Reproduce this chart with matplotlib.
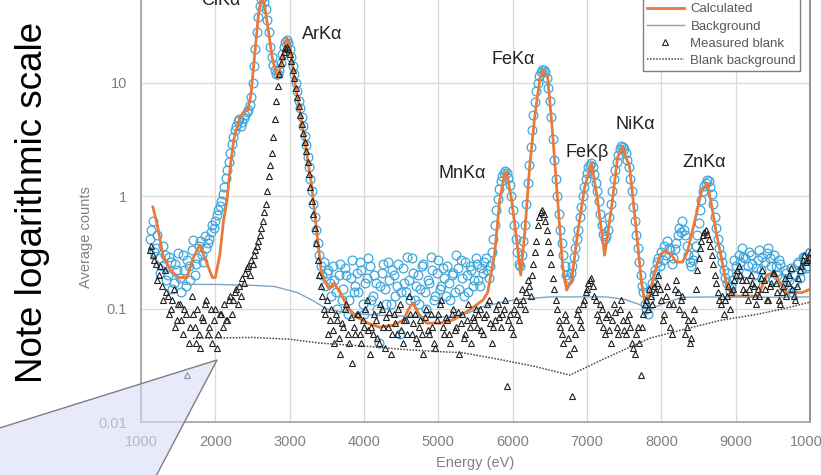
import numpy as np
import matplotlib
matplotlib.use("Agg")
import matplotlib.pyplot as plt
from matplotlib.patches import Polygon

plt.rcParams['font.family'] = ['Liberation Sans', 'DejaVu Sans']

# channel energies of the two measured spectra (eV), 20 eV bins
energy = np.arange(1120, 10001, 20)

# measured sample spectrum (average counts per bin), one row = 400 eV
measured = [
    0.42, 0.50, 0.60, 0.32, 0.35, 0.45, 0.28, 0.21, 0.24, 0.36, 0.30, 0.18, 0.20, 0.29, 0.26, 0.15, 0.17, 0.25, 0.22, 0.31,  # 1120
    0.19, 0.14, 0.30, 0.22, 0.16, 0.27, 0.24, 0.18, 0.33, 0.41, 0.20, 0.25, 0.28, 0.36, 0.40, 0.30, 0.26, 0.44, 0.35, 0.38,  # 1520
    0.42, 0.48, 0.55, 0.52, 0.60, 0.68, 0.75, 0.82, 0.90, 1.05, 1.20, 1.45, 1.70, 2.00, 2.40, 2.90, 3.30, 3.80, 4.20, 4.60,  # 1920
    4.80, 4.20, 4.50, 4.90, 5.20, 5.50, 5.80, 6.40, 7.50, 10.0, 14.0, 20.0, 28.0, 38.0, 48.0, 55.0, 58.0, 52.0, 45.0, 36.0,  # 2320
    28.0, 21.0, 17.0, 14.5, 13.0, 12.0, 12.0, 13.0, 15.0, 18.0, 21.0, 23.0, 24.0, 22.5, 20.0, 17.0, 14.0, 12.0, 10.0, 8.50,  # 2720
    7.00, 6.00, 5.00, 4.20, 3.40, 2.80, 2.20, 1.80, 1.40, 1.10, 0.85, 0.65, 0.50, 0.38, 0.30, 0.24, 0.20, 0.26, 0.16, 0.21,  # 3120
    0.22, 0.17, 0.13, 0.24, 0.18, 0.14, 0.10, 0.20, 0.25, 0.12, 0.15, 0.23, 0.20, 0.09, 0.12, 0.19, 0.27, 0.14, 0.16, 0.21,  # 3520
    0.14, 0.26, 0.22, 0.11, 0.09, 0.17, 0.19, 0.28, 0.24, 0.12, 0.13, 0.20, 0.17, 0.10, 0.05, 0.16, 0.21, 0.25, 0.15, 0.11,  # 3920
    0.26, 0.18, 0.11, 0.22, 0.20, 0.13, 0.16, 0.25, 0.06, 0.14, 0.23, 0.17, 0.14, 0.29, 0.18, 0.12, 0.28, 0.21, 0.12, 0.16,  # 4320
    0.20, 0.11, 0.15, 0.24, 0.25, 0.14, 0.10, 0.18, 0.17, 0.29, 0.22, 0.12, 0.13, 0.21, 0.27, 0.15, 0.16, 0.23, 0.19, 0.13,  # 4720
    0.24, 0.17, 0.12, 0.20, 0.21, 0.14, 0.30, 0.23, 0.15, 0.27, 0.19, 0.13, 0.26, 0.20, 0.14, 0.24, 0.22, 0.16, 0.18, 0.28,  # 5120
    0.25, 0.18, 0.16, 0.23, 0.21, 0.26, 0.28, 0.22, 0.19, 0.24, 0.32, 0.42, 0.55, 0.75, 0.95, 1.15, 1.35, 1.50, 1.60, 1.65,  # 5520
    1.60, 1.45, 1.25, 1.00, 0.75, 0.55, 0.42, 0.32, 0.25, 0.24, 0.30, 0.40, 0.55, 0.85, 1.30, 1.90, 2.70, 3.80, 5.20, 6.80,  # 5920
    8.50, 10.0, 11.5, 12.5, 13.0, 13.0, 12.5, 11.0, 9.00, 7.00, 5.00, 3.20, 2.10, 1.40, 1.00, 0.70, 0.50, 0.38, 0.30, 0.24,  # 6320
    0.20, 0.18, 0.19, 0.21, 0.24, 0.29, 0.35, 0.42, 0.50, 0.65, 0.80, 1.00, 1.20, 1.40, 1.60, 1.80, 1.90, 1.95, 1.80, 1.55,  # 6720
    1.30, 1.10, 0.90, 0.70, 0.55, 0.46, 0.42, 0.44, 0.50, 0.65, 0.85, 1.10, 1.40, 1.70, 2.00, 2.30, 2.60, 2.75, 2.70, 2.60,  # 7120
    2.40, 2.10, 1.80, 1.40, 1.10, 0.80, 0.60, 0.45, 0.35, 0.26, 0.20, 0.16, 0.14, 0.11, 0.10, 0.09, 0.12, 0.15, 0.17, 0.20,  # 7520
    0.22, 0.26, 0.28, 0.24, 0.32, 0.27, 0.36, 0.30, 0.40, 0.35, 0.33, 0.25, 0.28, 0.34, 0.38, 0.45, 0.52, 0.48, 0.60, 0.50,  # 7920
    0.45, 0.36, 0.30, 0.26, 0.24, 0.27, 0.30, 0.36, 0.45, 0.58, 0.75, 0.92, 1.10, 1.22, 1.30, 1.38, 1.35, 1.20, 1.05, 0.85,  # 8320
    0.65, 0.52, 0.42, 0.35, 0.30, 0.26, 0.22, 0.19, 0.17, 0.21, 0.14, 0.16, 0.18, 0.27, 0.24, 0.20, 0.30, 0.26, 0.35, 0.29,  # 8720
    0.28, 0.21, 0.24, 0.32, 0.30, 0.25, 0.20, 0.17, 0.23, 0.27, 0.33, 0.22, 0.29, 0.19, 0.26, 0.31, 0.35, 0.28, 0.24, 0.18,  # 9120
    0.30, 0.24, 0.20, 0.27, 0.25, 0.19, 0.16, 0.22, 0.21, 0.15, 0.18, 0.23, 0.14, 0.17, 0.20, 0.25, 0.26, 0.19, 0.22, 0.29,  # 9520
    0.28, 0.23, 0.24, 0.31, 0.32,                                                                                          # 9920
]

# measured blank spectrum
blank = [
    0.33, 0.36, 0.30, 0.27, 0.25, 0.18, 0.20, 0.24, 0.16, 0.12, 0.22, 0.14, 0.13, 0.09, 0.10, 0.12, 0.15, 0.07, 0.08, 0.11,  # 1120
    0.11, 0.08, 0.06, 0.10, 0.09, 0.026, 0.05, 0.07, 0.13, 0.09, 0.07, 0.05, 0.10, 0.06, 0.045, 0.085, 0.08, 0.11, 0.12, 0.06,  # 1520
    0.07, 0.10, 0.05, 0.08, 0.10, 0.045, 0.06, 0.09, 0.09, 0.07, 0.11, 0.08, 0.08, 0.12, 0.13, 0.09, 0.12, 0.14, 0.15, 0.11,  # 1920
    0.16, 0.13, 0.19, 0.17, 0.21, 0.23, 0.24, 0.20, 0.27, 0.25, 0.30, 0.33, 0.36, 0.40, 0.45, 0.52, 0.60, 0.72, 0.85, 1.10,  # 2320
    1.50, 1.90, 2.40, 3.30, 4.80, 7.00, 9.50, 12.0, 15.0, 17.5, 19.0, 20.5, 21.0, 20.0, 18.0, 15.5, 13.0, 11.0, 9.00, 7.50,  # 2720
    6.20, 5.20, 4.30, 3.60, 3.00, 2.50, 2.00, 1.55, 1.20, 0.90, 0.70, 0.52, 0.38, 0.27, 0.20, 0.16, 0.13, 0.10, 0.09, 0.12,  # 3120
    0.06, 0.08, 0.10, 0.065, 0.05, 0.09, 0.08, 0.055, 0.04, 0.075, 0.07, 0.10, 0.11, 0.06, 0.05, 0.085, 0.033, 0.07, 0.06, 0.09,  # 3520
    0.09, 0.06, 0.05, 0.08, 0.07, 0.10, 0.12, 0.065, 0.04, 0.07, 0.06, 0.09, 0.08, 0.055, 0.05, 0.11, 0.10, 0.07, 0.045, 0.085,  # 3920
    0.07, 0.095, 0.04, 0.06, 0.09, 0.075, 0.06, 0.10, 0.11, 0.065, 0.05, 0.08, 0.08, 0.06, 0.13, 0.09, 0.06, 0.075, 0.09, 0.055,  # 4320
    0.05, 0.07, 0.08, 0.06, 0.04, 0.085, 0.10, 0.065, 0.06, 0.09, 0.07, 0.05, 0.045, 0.08, 0.09, 0.11, 0.12, 0.07, 0.06, 0.085,  # 4720
    0.08, 0.06, 0.05, 0.09, 0.10, 0.065, 0.07, 0.095, 0.04, 0.075, 0.09, 0.055, 0.06, 0.08, 0.11, 0.07, 0.05, 0.085, 0.08, 0.10,  # 5120
    0.07, 0.09, 0.10, 0.065, 0.06, 0.085, 0.09, 0.11, 0.12, 0.075, 0.05, 0.07, 0.08, 0.10, 0.11, 0.085, 0.07, 0.09, 0.10, 0.12,  # 5520
    0.021, 0.08, 0.09, 0.07, 0.06, 0.10, 0.12, 0.09, 0.08, 0.11, 0.15, 0.12, 0.10, 0.14, 0.18, 0.16, 0.13, 0.20, 0.25, 0.32,  # 5920
    0.40, 0.55, 0.65, 0.72, 0.75, 0.70, 0.60, 0.50, 0.40, 0.32, 0.25, 0.19, 0.15, 0.12, 0.10, 0.08, 0.07, 0.06, 0.05, 0.09,  # 6320
    0.08, 0.055, 0.04, 0.07, 0.017, 0.045, 0.06, 0.09, 0.10, 0.08, 0.07, 0.11, 0.12, 0.14, 0.15, 0.17, 0.18, 0.19, 0.16, 0.13,  # 6720
    0.12, 0.09, 0.08, 0.11, 0.10, 0.07, 0.06, 0.085, 0.09, 0.065, 0.05, 0.08, 0.11, 0.095, 0.07, 0.06, 0.10, 0.12, 0.08, 0.065,  # 7120
    0.06, 0.08, 0.09, 0.07, 0.05, 0.045, 0.04, 0.06, 0.07, 0.05, 0.026, 0.07, 0.09, 0.11, 0.12, 0.10, 0.15, 0.13, 0.11, 0.16,  # 7520
    0.14, 0.17, 0.20, 0.15, 0.12, 0.08, 0.09, 0.13, 0.16, 0.11, 0.07, 0.06, 0.11, 0.15, 0.18, 0.14, 0.10, 0.12, 0.13, 0.09,  # 7920
    0.06, 0.07, 0.08, 0.05, 0.055, 0.08, 0.10, 0.15, 0.22, 0.28, 0.35, 0.40, 0.45, 0.48, 0.50, 0.46, 0.42, 0.36, 0.30, 0.25,  # 8320
    0.20, 0.17, 0.14, 0.12, 0.11, 0.13, 0.09, 0.12, 0.13, 0.16, 0.10, 0.14, 0.15, 0.18, 0.20, 0.22, 0.24, 0.20, 0.18, 0.15,  # 8720
    0.14, 0.18, 0.12, 0.15, 0.20, 0.17, 0.16, 0.13, 0.11, 0.15, 0.13, 0.19, 0.22, 0.18, 0.15, 0.12, 0.12, 0.16, 0.17, 0.21,  # 9120
    0.21, 0.17, 0.14, 0.12, 0.11, 0.14, 0.16, 0.19, 0.13, 0.17, 0.20, 0.23, 0.15, 0.13, 0.12, 0.16, 0.19, 0.22, 0.24, 0.27,  # 9520
    0.30, 0.26, 0.27, 0.29, 0.32,                                                                                          # 9920
]

# fitted (calculated) spectrum
calc_e = [1160, 1220, 1300, 1400, 1500, 1620, 1700, 1790, 1880, 1960,
          2000, 2060, 2110, 2156, 2200, 2250, 2290, 2330, 2400, 2440,
          2480, 2530, 2580, 2620, 2660, 2710, 2770, 2841, 2900, 2962,
          3010, 3070, 3140, 3204, 3298, 3366, 3430, 3530, 3600, 3675,
          3800, 3900, 4050, 4210, 4400, 4530, 4600, 4656, 4740, 4840,
          5020, 5200, 5420, 5600, 5664, 5758, 5825, 5892, 5919, 5987,
          6054, 6108, 6161, 6228, 6296, 6363, 6403, 6470, 6537, 6605,
          6672, 6726, 6793, 6874, 6968, 7062, 7142, 7237, 7331, 7411,
          7478, 7573, 7667, 7734, 7774, 7840, 7900, 7980, 8060, 8140,
          8200, 8285, 8350, 8450, 8540, 8620, 8680, 8740, 8800, 8880,
          8960, 9100, 9300, 9420, 9520, 9600, 9680, 9780, 9900, 10000]
calc_v = [0.80, 0.55, 0.29, 0.22, 0.19, 0.19, 0.28, 0.37, 0.26, 0.19,
          0.19, 0.30, 0.60, 0.91, 1.8, 3.2, 4.0, 5.0, 5.6, 5.8,
          8.0, 18, 40, 58, 50, 30, 16, 11, 16, 25,
          20, 10, 5.5, 3.1, 1.2, 0.47, 0.20, 0.15, 0.17, 0.14,
          0.10, 0.085, 0.075, 0.069, 0.072, 0.08, 0.10, 0.113, 0.09, 0.075,
          0.075, 0.08, 0.098, 0.12, 0.14, 0.31, 0.91, 1.6, 1.63, 0.91,
          0.41, 0.20, 0.46, 1.8, 5.0, 10.6, 13.0, 11.5, 3.6, 0.92,
          0.24, 0.147, 0.18, 0.47, 1.2, 1.96, 0.92, 0.30, 0.80, 2.2,
          2.7, 1.8, 0.47, 0.17, 0.12, 0.13, 0.2, 0.3, 0.33, 0.3,
          0.26, 0.26, 0.32, 0.6, 1.1, 1.3, 0.8, 0.47, 0.3, 0.16,
          0.13, 0.13, 0.13, 0.2, 0.21, 0.17, 0.14, 0.14, 0.14, 0.15]

# background of the fit
bkg_e = [1150, 1580, 2000, 2500, 2800, 3100, 3300, 3500, 3800, 4200, 4600,
         5150, 5400, 5600, 6000, 6500, 7000, 7260, 7500, 7700, 7840, 8000,
         8285, 8800, 9400, 10000]
bkg_v = [0.29, 0.165, 0.165, 0.162, 0.158, 0.14, 0.12, 0.10, 0.092, 0.088,
         0.086, 0.085, 0.092, 0.105, 0.12, 0.128, 0.128, 0.128, 0.122, 0.11,
         0.098, 0.11, 0.127, 0.128, 0.127, 0.128]

# background of the blank
bbk_e = [1700, 2500, 3000, 3400, 4000, 4500, 5000, 5330, 5800, 6300, 6770,
         7260, 7840, 8300, 8820, 9300, 9630, 10000]
bbk_v = [0.055, 0.056, 0.054, 0.05, 0.047, 0.044, 0.042, 0.041, 0.036,
         0.031, 0.026, 0.037, 0.055, 0.066, 0.08, 0.09, 0.10, 0.115]

peak_names = ['ClKα', 'ArKα', 'MnKα', 'FeKα', 'FeKβ', 'NiKα', 'ZnKα']
peak_e = [2075, 3433, 5315, 6013, 7008, 7653, 8581]
peak_y = [54, 26.6, 1.57, 16.3, 2.45, 4.33, 1.96]

W, H = 821, 475
fig = plt.figure(figsize=(W / 100, H / 100), dpi=100)
ax = fig.add_axes([141 / W, 53 / H, 669 / W, 452 / H])
ax.patch.set_alpha(0)

ax.plot(energy, measured, ls='none', marker='o', ms=6.3, mfc='none',
        mec='#3FA6DA', mew=0.9, zorder=2, label='Measured')
ax.plot(calc_e, calc_v, color='#EA7A3A', lw=2.0, zorder=3, label='Calculated')
ax.plot(bkg_e, bkg_v, color='#7FA6C6', lw=1.0, zorder=3, label='Background')
ax.plot(energy, blank, ls='none', marker='^', ms=4.8, mfc='none',
        mec='#222222', mew=0.8, zorder=4, label='Measured blank')
ax.plot(bbk_e, bbk_v, color='#444444', lw=1.1, ls=(0, (1, 1)), zorder=5,
        label='Blank background')

ax.set_yscale('log')
ax.set_xlim(1000, 10000)
ax.set_ylim(0.01, 100)
ax.set_xticks(range(1000, 10001, 1000))
ax.set_yticks([0.01, 0.1, 1, 10])
ax.set_yticklabels(['0.01', '0.1', '1', '10'])
ax.minorticks_off()
ax.grid(True, color='#D9D9D9', lw=0.9)
ax.axhline(100, color='#D9D9D9', lw=0.9, zorder=0)
ax.set_axisbelow(True)
ax.tick_params(length=0, labelsize=10.5, labelcolor='#808080')
ax.tick_params(axis='x', pad=9)
ax.tick_params(axis='y', pad=10)
for side in ['left', 'bottom', 'right']:
    ax.spines[side].set_color('#A0A0A0')
    ax.spines[side].set_linewidth(1.2)
ax.spines['right'].set_color('#808080')
ax.spines['top'].set_visible(False)

ax.set_xlabel('Energy (eV)', fontsize=10.5, color='#808080')
ax.xaxis.set_label_coords(0.5, -0.075)
ax.set_ylabel('Average counts', fontsize=10.5, color='#808080')
ax.yaxis.set_label_coords(-0.072, 0.41)

for name, e, y in zip(peak_names, peak_e, peak_y):
    ax.text(e, y, name, fontsize=13, ha='center', va='center', color='#222222')

leg = ax.legend(loc='lower right', bbox_to_anchor=(0.985, 0.7765),
                fontsize=9.5, frameon=True, fancybox=False, framealpha=1,
                edgecolor='#808080', handlelength=2.8, handletextpad=0.5,
                labelspacing=0.38, borderpad=0.3, borderaxespad=0,
                labelcolor='#595959')
leg.get_frame().set_linewidth(1.0)
leg.set_zorder(6)

# callout bubble pointing at the log axis
pts = [(-10, 431), (217, 360), (154, 480), (-10, 480)]
poly = Polygon([(x / W, 1 - y / H) for x, y in pts], closed=True,
               transform=fig.transFigure, facecolor=(0.86, 0.86, 0.98, 0.6),
               edgecolor='#7F7F7F', lw=1.0, zorder=10)
fig.patches.append(poly)

fig.text(33 / W, 1 - 202 / H, 'Note logarithmic scale', rotation=90,
         fontsize=26.5, ha='center', va='center', color='black')

fig.savefig('out.png', dpi=100)
